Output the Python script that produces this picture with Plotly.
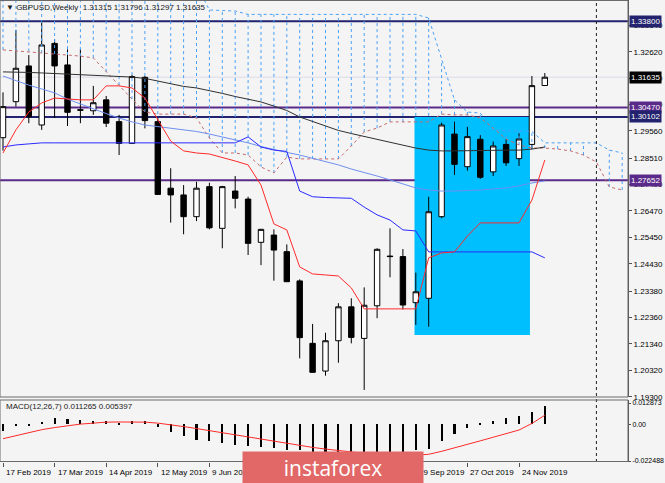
import plotly.graph_objects as go
import pandas as pd

# ---------------- data ----------------
first_week = "2019-02-17"
weeks = pd.date_range(first_week, periods=43, freq="7D")          # candles
cloud_weeks = pd.date_range(first_week, periods=49, freq="7D")    # cloud runs ahead

opens = [1.2930,1.3069,1.3207,1.2979,1.3294,1.3211,1.3038,1.3034,1.3076,1.2992,1.2908,1.3163,1.2992,1.2735,1.2709,1.2625,1.2741,1.2580,1.2724,1.2693,1.2526,1.2554,1.2490,1.2377,1.2136,1.2029,1.2146,1.2277,1.2155,1.2281,1.2473,1.2471,1.2293,1.2310,1.2625,1.2944,1.2818,1.2924,1.2798,1.2904,1.2849,1.2904,1.31315]
highs = [1.3105,1.3346,1.3249,1.3382,1.3311,1.3271,1.3271,1.3130,1.3091,1.3018,1.3172,1.3168,1.3006,1.2812,1.2747,1.2760,1.2756,1.2744,1.2782,1.2702,1.2578,1.2576,1.2518,1.2383,1.2211,1.2177,1.2291,1.2310,1.2352,1.2503,1.2580,1.2500,1.2409,1.2702,1.2988,1.2992,1.2972,1.2940,1.2915,1.2924,1.2947,1.3168,1.31796]
lows = [1.2880,1.3050,1.2986,1.2960,1.3006,1.2975,1.2986,1.3018,1.2971,1.2863,1.2906,1.2966,1.2709,1.2602,1.2557,1.2608,1.2576,1.2503,1.2657,1.2477,1.2438,1.2378,1.2373,1.2078,1.2023,1.2011,1.2061,1.2136,1.1956,1.2233,1.2391,1.2267,1.2207,1.2200,1.2619,1.2786,1.2803,1.2771,1.2782,1.2821,1.2821,1.2885,1.31297]
closes = [1.3050,1.3198,1.3011,1.3288,1.3207,1.3028,1.3036,1.3065,1.2986,1.2908,1.3166,1.2996,1.2711,1.2709,1.2625,1.2735,1.2582,1.2741,1.2696,1.2522,1.2576,1.2496,1.2374,1.2158,1.2024,1.2146,1.2277,1.2159,1.2283,1.2499,1.2471,1.2284,1.2335,1.2644,1.2979,1.2827,1.2934,1.2777,1.2898,1.2833,1.2925,1.3131,1.31635]

tenkan = [1.2871,1.2960,1.3029,1.3064,1.3083,1.3079,1.3076,1.3076,1.3130,1.3130,1.3122,1.3083,1.2998,1.2917,1.2879,1.2871,1.2867,1.2852,1.2840,1.2825,1.2747,1.2597,1.2574,1.2431,1.2404,1.2400,1.2396,1.2350,1.2269,1.2269,1.2269,1.2269,1.2269,1.2466,1.2485,1.2489,1.2550,1.2601,1.2601,1.2601,1.2601,1.2689,1.2844]
kijun = [1.2894,1.2902,1.2906,1.2910,1.2910,1.2910,1.2910,1.2910,1.2910,1.2910,1.2910,1.2910,1.2910,1.2910,1.2910,1.2910,1.2910,1.2910,1.2910,1.2933,1.2894,1.2882,1.2877,1.2724,1.2702,1.2699,1.2697,1.2696,1.2662,1.2632,1.2612,1.2574,1.2570,1.2489,1.2489,1.2489,1.2489,1.2489,1.2489,1.2489,1.2489,1.2489,1.2466]
ma_dark = [1.3184,1.3184,1.3182,1.3180,1.3178,1.3176,1.3172,1.3170,1.3168,1.3166,1.3164,1.3159,1.3149,1.3137,1.3128,1.3122,1.3112,1.3101,1.3089,1.3079,1.3068,1.3052,1.3035,1.3010,1.2993,1.2973,1.2958,1.2946,1.2935,1.2923,1.2911,1.2900,1.2890,1.2882,1.2879,1.2879,1.2880,1.2882,1.2882,1.2882,1.2882,1.2886,1.2894]
ma_light = [1.3168,1.3149,1.3133,1.3118,1.3103,1.3079,1.3060,1.3041,1.3023,1.3006,1.2991,1.2979,1.2973,1.2967,1.2960,1.2954,1.2944,1.2933,1.2921,1.2910,1.2896,1.2884,1.2873,1.2863,1.2850,1.2838,1.2825,1.2809,1.2796,1.2782,1.2767,1.2751,1.2736,1.2728,1.2724,1.2724,1.2725,1.2728,1.2732,1.2736,1.2744,1.2755,1.2763]
span_a = [1.3269,1.3265,1.3263,1.3257,1.3253,1.3249,1.3245,1.3238,1.3184,1.3133,1.3079,1.3029,1.3021,1.3021,1.3021,1.3006,1.2929,1.2871,1.2871,1.2863,1.2817,1.2794,1.2855,1.2848,1.2848,1.2848,1.2848,1.2898,1.2952,1.2967,1.2991,1.2991,1.2991,1.2991,1.3021,1.3018,1.3018,1.3006,1.2967,1.2925,1.2902,1.2890,1.2890,1.2886,1.2879,1.2863,1.2836,1.2740,1.2728]
span_b = [1.3600,1.3600,1.3600,1.3600,1.3600,1.3600,1.3600,1.3600,1.3600,1.3600,1.3600,1.3600,1.3600,1.3600,1.3600,1.3520,1.3423,1.3421,1.3419,1.3406,1.3406,1.3406,1.3406,1.3406,1.3406,1.3406,1.3406,1.3406,1.3406,1.3406,1.3406,1.3406,1.3406,1.3392,1.3230,1.3076,1.3029,1.3025,1.2960,1.2956,1.2956,1.2954,1.2910,1.2910,1.2910,1.2910,1.2910,1.2882,1.2871]

macd_hist = [-0.0040,-0.0010,-0.0010,0.0015,0.0037,0.0030,0.0023,0.0021,0.0017,0.0006,0.0017,0.0017,-0.0020,-0.0048,-0.0074,-0.0095,-0.0105,-0.0115,-0.0125,-0.0135,-0.0139,-0.0145,-0.0156,-0.0160,-0.0170,-0.0180,-0.0185,-0.0190,-0.0195,-0.0185,-0.0175,-0.0170,-0.0160,-0.0150,-0.0100,-0.0060,-0.0025,0.0008,0.0020,0.0035,0.0048,0.0075,0.011265]
macd_signal = [-0.0089,-0.0070,-0.0052,-0.0034,-0.0021,-0.0009,0.0000,0.0006,0.0012,0.0013,0.0013,0.0012,0.0006,-0.0003,-0.0015,-0.0027,-0.0040,-0.0052,-0.0064,-0.0076,-0.0092,-0.0104,-0.0119,-0.0131,-0.0142,-0.0152,-0.0162,-0.0170,-0.0178,-0.0184,-0.0188,-0.0190,-0.0190,-0.0184,-0.0166,-0.0146,-0.0124,-0.0102,-0.0080,-0.0059,-0.0036,0.0004,0.005397]

price_ticks = [1.33640,1.32620,1.31600,1.30580,1.29560,1.28510,1.27490,1.26470,1.25450,1.24430,1.23380,1.22360,1.21340,1.20320,1.19300]
macd_ticks = [0.012873, 0.0, -0.022488]
macd_tick_text = ["0.012873", "0.00", "-0.022488"]

date_ticks = ["2019-02-17","2019-03-17","2019-04-14","2019-05-12","2019-06-09","2019-07-07","2019-08-04","2019-09-01","2019-09-29","2019-10-27","2019-11-24"]
date_tick_text = ["17 Feb 2019","17 Mar 2019","14 Apr 2019","12 May 2019","9 Jun 2019","7 Jul 2019","4 Aug 2019","1 Sep 2019","29 Sep 2019","27 Oct 2019","24 Nov 2019"]

levels = [1.33800, 1.30470, 1.30102, 1.27652]
level_colors = ["#22226e", "#5a2a8a", "#22226e", "#5a2a8a"]
last_price = 1.31635
zone_top, zone_bottom = 1.30102, 1.2168

title_text = "▼ GBPUSD,Weekly  1.31315 1.31796 1.31297 1.31635"
macd_text = "MACD(12,26,7) 0.011265 0.005397"

# ---------------- geometry helpers ----------------
W, H = 665, 483
PLOT_R, PLOT_B = 628, 462
step = pd.Timedelta(days=7)
t0 = weeks[0]
def wk(pos):
    return t0 + step * pos

def py(pix):  # paper y from pixel row
    return (PLOT_B - pix) / PLOT_B

def px(pix):  # paper x from pixel column
    return pix / PLOT_R

FONT = "Liberation Sans"
BG = "#f4f4f4"

fig = go.Figure()

# cloud hatch
hx, hy = [], []
for d, a, b in zip(cloud_weeks, span_a, span_b):
    hx += [d, d, None]
    hy += [a, b, None]
fig.add_trace(go.Scatter(x=hx, y=hy, mode="lines", line=dict(color="#4aa0f5", width=1, dash="dot"),
                         hoverinfo="skip", showlegend=False))
fig.add_trace(go.Scatter(x=cloud_weeks, y=span_b, mode="lines", line=dict(color="#4aa0f5", width=1, dash="dot"),
                         showlegend=False))
fig.add_trace(go.Scatter(x=cloud_weeks, y=span_a, mode="lines", line=dict(color="#c46a6a", width=1, dash="dot"),
                         showlegend=False))
fig.add_trace(go.Scatter(x=weeks, y=ma_light, mode="lines", line=dict(color="#6f8ff0", width=1), showlegend=False))
fig.add_trace(go.Scatter(x=weeks, y=ma_dark, mode="lines", line=dict(color="#303030", width=1), showlegend=False))
fig.add_trace(go.Scatter(x=weeks, y=kijun, mode="lines", line=dict(color="#2a2aff", width=1), showlegend=False))
fig.add_trace(go.Scatter(x=weeks, y=tenkan, mode="lines", line=dict(color="#ff2a2a", width=1), showlegend=False))

fig.add_trace(go.Candlestick(
    x=weeks, open=opens, high=highs, low=lows, close=closes,
    increasing=dict(fillcolor="#ffffff", line=dict(color="#000000", width=1)),
    decreasing=dict(fillcolor="#000000", line=dict(color="#000000", width=1)),
    whiskerwidth=0, showlegend=False, hoverinfo="skip"))

# MACD
fig.add_trace(go.Bar(x=weeks, y=macd_hist, marker=dict(color="#000000", line=dict(width=0)),
                     width=1000*60*60*24*1.1, yaxis="y2", showlegend=False))
fig.add_trace(go.Scatter(x=weeks, y=macd_signal, mode="lines", line=dict(color="#ff2a2a", width=1),
                         yaxis="y2", showlegend=False))

shapes = []
shapes.append(dict(type="rect", xref="x", yref="y", x0=wk(31.9), x1=wk(40.85), y0=zone_bottom, y1=zone_top,
                   fillcolor="#00bfff", line=dict(width=0), layer="below"))
shapes.append(dict(type="line", xref="paper", yref="y", x0=0, x1=1, y0=last_price, y1=last_price,
                   line=dict(color="#dcdcea", width=1), layer="below"))
for lv, c in zip(levels, level_colors):
    shapes.append(dict(type="line", xref="paper", yref="y", x0=0, x1=1, y0=lv, y1=lv,
                       line=dict(color=c, width=2), layer="below"))
shapes.append(dict(type="line", xref="x", yref="paper", x0=wk(46), x1=wk(46), y0=0, y1=1,
                   line=dict(color="#202020", width=1, dash="3px,3px")))
shapes.append(dict(type="rect", xref="paper", yref="paper", x0=0, x1=1, y0=py(397), y1=py(0.5),
                   line=dict(color="#6a6a6a", width=1)))
shapes.append(dict(type="rect", xref="paper", yref="paper", x0=0, x1=1, y0=py(461.5), y1=py(400),
                   line=dict(color="#6a6a6a", width=1)))

ann = []
ann.append(dict(text=title_text, xref="paper", yref="paper", x=px(4), y=py(8), xanchor="left", yanchor="middle",
                showarrow=False, font=dict(family=FONT, size=8, color="#202020")))
ann.append(dict(text=macd_text, xref="paper", yref="paper", x=px(4), y=py(406), xanchor="left", yanchor="middle",
                showarrow=False, font=dict(family=FONT, size=8, color="#202020")))
for lv, c in zip(levels + [last_price], level_colors + ["#000000"]):
    ann.append(dict(text=f"{lv:.5f}", xref="paper", yref="y", x=1.0, y=lv, xanchor="left", yanchor="middle",
                    showarrow=False, bgcolor=c, borderpad=1, xshift=1,
                    font=dict(family=FONT, size=8, color="#ffffff")))
for d, t in zip(date_ticks, date_tick_text):
    ann.append(dict(text=t, xref="x", yref="paper", x=d, y=py(473), xanchor="left", yanchor="middle",
                    showarrow=False, xshift=1, font=dict(family=FONT, size=8, color="#000000")))
ann.append(dict(text="instaforex", xref="paper", yref="paper", x=px(333), y=py(467.5), xanchor="center",
                yanchor="middle", showarrow=False, width=180, height=31, bgcolor="#e26868", borderpad=0,
                font=dict(family="Open Sans", size=21, color="#ffffff")))

fig.update_layout(
    width=W, height=H, margin=dict(l=0, r=W - PLOT_R, t=0, b=H - PLOT_B, autoexpand=False),
    paper_bgcolor=BG, plot_bgcolor=BG, showlegend=False, boxgap=0.4, bargap=0,
    xaxis=dict(type="date", range=[wk(-0.233), wk(48.45)], anchor="y2", showgrid=False, zeroline=False,
               rangeslider=dict(visible=False), ticks="outside", ticklen=4, tickcolor="#505050",
               tickvals=date_ticks, showticklabels=False, showline=False, automargin=False),
    yaxis=dict(domain=[py(397), 1], side="right", anchor="x", range=[1.19288, 1.34616], showgrid=False,
               zeroline=False, tickvals=price_ticks, ticktext=[f"{v:.5f}" for v in price_ticks],
               ticks="outside", ticklen=3, tickcolor="#505050", showline=True, linecolor="#505050",
               tickfont=dict(family=FONT, size=8, color="#000000"), automargin=False),
    yaxis2=dict(domain=[0, py(400)], side="right", anchor="x", range=[-0.023098, 0.014702], showgrid=False,
                zeroline=False, tickvals=macd_ticks, ticktext=macd_tick_text, ticks="outside", ticklen=2,
                tickcolor="#505050", showline=True, linecolor="#505050",
                tickfont=dict(family=FONT, size=7, color="#000000"), automargin=False),
    shapes=shapes, annotations=ann,
)

fig.write_html("out.html", config={"displayModeBar": False},
               post_script="document.body.style.margin='0px';document.body.style.overflow='hidden';")
